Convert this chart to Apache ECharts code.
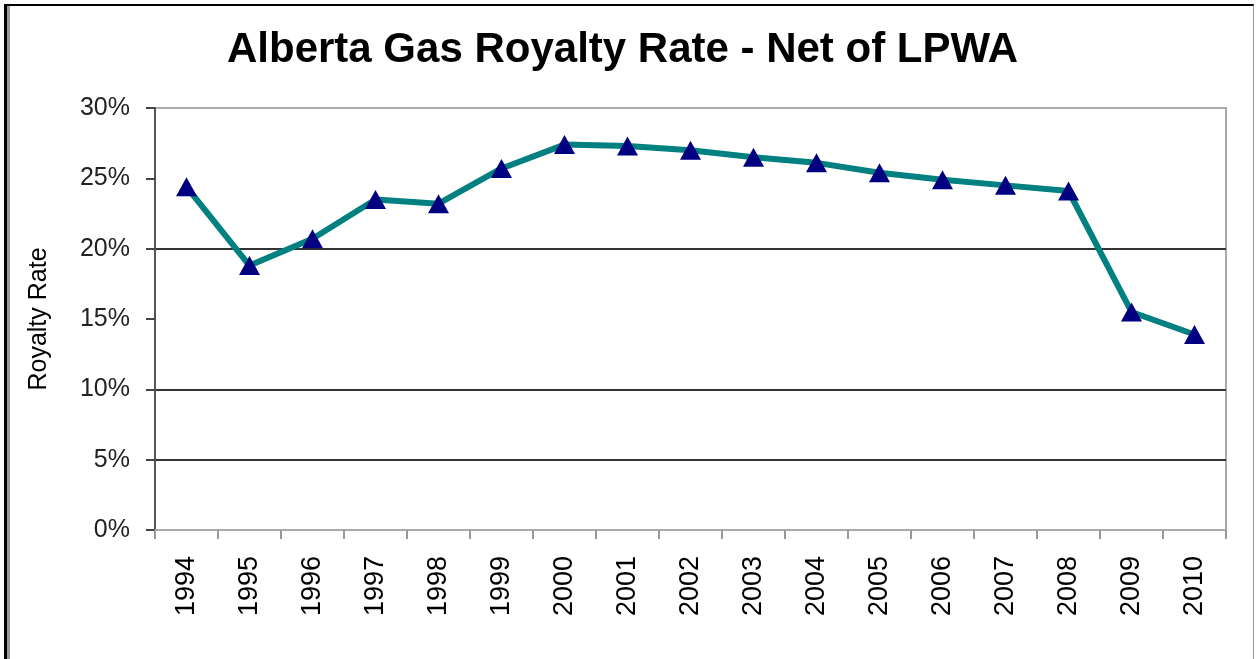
<!DOCTYPE html>
<html>
<head>
<meta charset="utf-8">
<script src="https://cdn.jsdelivr.net/npm/echarts@6/dist/echarts.min.js"></script>
<style>
  html, body { margin: 0; padding: 0; background: #fff; }
  #frame {
    position: absolute; left: 4px; top: 4px; width: 1246px; height: 700px;
    border-left: 3px solid #000; border-top: 2px solid #000; border-right: 1px solid #999;
    box-shadow: inset 3px 0 0 #999;
  }
  #line { position: absolute; left: 0; top: 0; width: 1257px; height: 659px; }
</style>
</head>
<body>
<div id="frame"></div>
<div id="line"></div>
<script>
// 年份
const years = ['1994','1995','1996','1997','1998','1999','2000','2001','2002','2003','2004','2005','2006','2007','2008','2009','2010']
// 特许权使用费率 (%)
const royaltyRate = [24.4, 18.8, 20.7, 23.5, 23.2, 25.7, 27.4, 27.3, 27.0, 26.5, 26.1, 25.4, 24.9, 24.5, 24.1, 15.5, 13.9]
// y轴刻度
const yTicks = [0, 5, 10, 15, 20, 25, 30]

const dom = document.querySelector('#line')
const myChart = echarts.init(dom)

const font = 'Arial, "Liberation Sans", sans-serif'

const option = {
  animation: false,
  title: {
    text: 'Alberta Gas Royalty Rate - Net of LPWA',
    left: 222,
    top: 24,
    textStyle: { fontFamily: font, fontSize: 42, fontWeight: 'bold', color: '#000' }
  },
  grid: {
    left: 155, right: 31, top: 108, bottom: 129,
    show: true, borderColor: '#aaa', borderWidth: 2
  },
  xAxis: {
    type: 'category',
    data: years,
    boundaryGap: true,
    axisLine: { lineStyle: { color: '#aaa', width: 2 } },
    axisTick: { show: true, length: 9, alignWithLabel: false, lineStyle: { color: '#999', width: 2 } },
    axisLabel: { rotate: 90, margin: 26, fontFamily: font, fontSize: 27, color: '#000' }
  },
  yAxis: {
    type: 'value',
    min: yTicks[0],
    max: yTicks[yTicks.length - 1],
    interval: 5,
    name: 'Royalty Rate',
    nameLocation: 'middle',
    nameGap: 103,
    nameTextStyle: { fontFamily: font, fontSize: 25, color: '#000' },
    axisLine: { show: true, lineStyle: { color: '#555', width: 2 } },
    axisTick: { show: true, length: 9, lineStyle: { color: '#444', width: 2 } },
    axisLabel: { margin: 25, fontFamily: font, fontSize: 25, color: '#222', formatter: '{value}%' },
    // 网格线 只有 5% 10% 20% 显示
    splitLine: {
      show: true,
      lineStyle: { width: 2, color: ['rgba(0,0,0,0)', '#333', '#333', 'rgba(0,0,0,0)', '#333', 'rgba(0,0,0,0)', '#aaa'] }
    }
  },
  series: [
    {
      type: 'line',
      data: royaltyRate,
      symbol: 'triangle',
      symbolSize: [21, 19],
      itemStyle: { color: '#000080' },
      lineStyle: { color: '#008080', width: 6 },
      z: 3
    }
  ]
}

myChart.setOption(option)
</script>
</body>
</html>
